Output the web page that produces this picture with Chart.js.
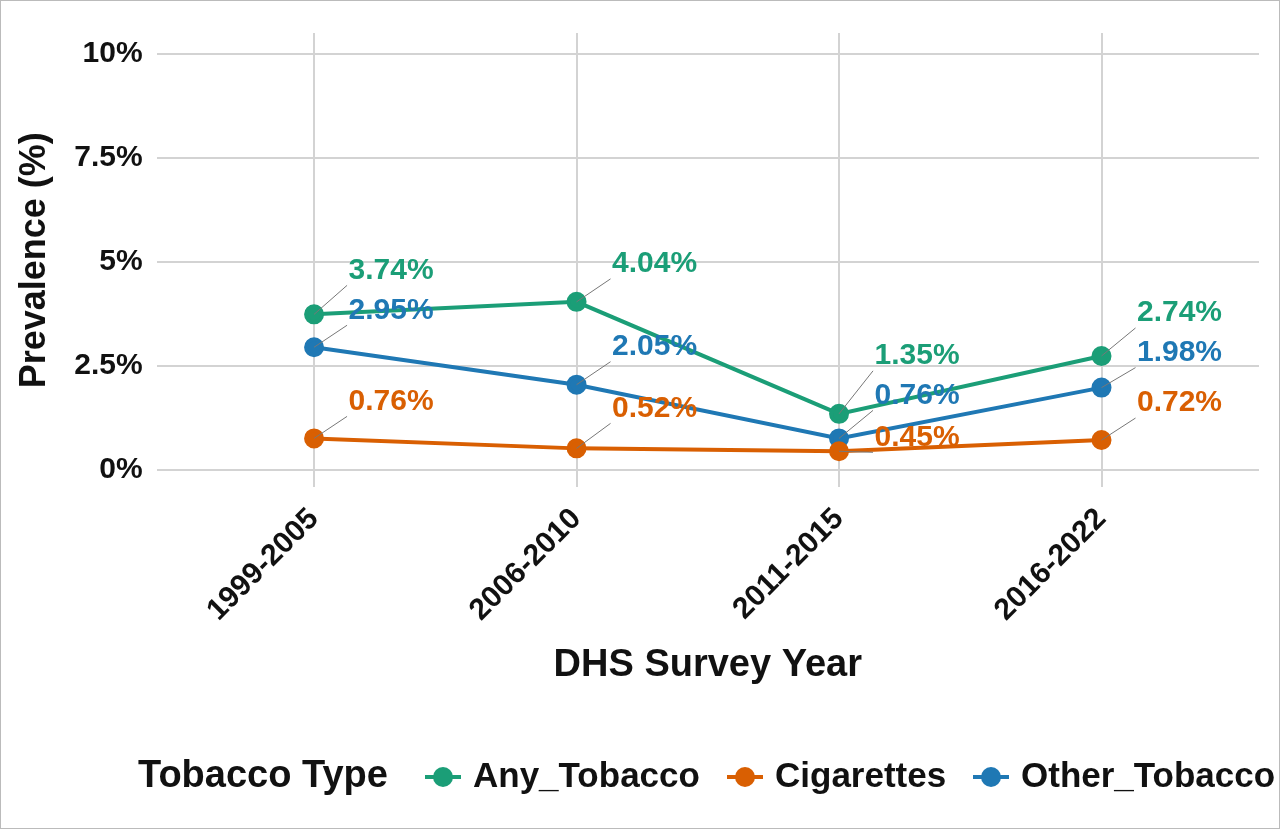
<!DOCTYPE html>
<html>
<head>
<meta charset="utf-8">
<script src="https://cdn.jsdelivr.net/npm/chart.js@4/dist/chart.umd.min.js"></script>
<style>
  html, body { margin: 0; background: #fff; }
  #wrap { width: 1278px; height: 827px; border: 1px solid #bbb; }
</style>
</head>
<body>
<div id="wrap"><canvas id="chart" width="1278" height="827"></canvas></div>
<script>
// ─── Data ────────────────────────────────────────────────────────────────────
const SURVEY_YEARS = ['1999-2005', '2006-2010', '2011-2015', '2016-2022'];
const ANY_TOBACCO   = [3.74, 4.04, 1.35, 2.74];
const CIGARETTES    = [0.76, 0.52, 0.45, 0.72];
const OTHER_TOBACCO = [2.95, 2.05, 0.76, 1.98];
const Y_TICKS = [0, 2.5, 5, 7.5, 10];
const Y_TICK_LABELS = ['0%', '2.5%', '5%', '7.5%', '10%'];

const COLORS = { any: '#1b9e77', cig: '#d95f02', other: '#1f78b4' };
const FONT = 'Liberation Sans, Arial, sans-serif';

// label offsets (px) from each point, repel-style
const LABEL_OFFSET = {
  any:   [[77, -44], [78, -38], [78, -58], [78, -43]],
  other: [[77, -37], [78, -38], [78, -43], [78, -35]],
  cig:   [[77, -37], [78, -40], [78, -14], [78, -37]]
};

const toPts = arr => arr.map((v, i) => ({ x: i, y: v }));

const labelPlugin = {
  id: 'repelLabels',
  afterDatasetsDraw(chart) {
    const { ctx } = chart;
    ctx.save();
    ctx.font = `bold 30px ${FONT}`;
    ctx.textAlign = 'center';
    ctx.textBaseline = 'middle';
    chart.data.datasets.forEach((ds, di) => {
      const meta = chart.getDatasetMeta(di);
      meta.data.forEach((pt, i) => {
        const [dx, dy] = LABEL_OFFSET[ds.key][i];
        const tx = pt.x + dx, ty = pt.y + dy;
        ctx.strokeStyle = '#777';
        ctx.lineWidth = 1;
        ctx.beginPath();
        ctx.moveTo(pt.x, pt.y);
        ctx.lineTo(tx - 44, ty + 15);
        ctx.stroke();
        ctx.fillStyle = ds.borderColor;
        ctx.fillText(ds.data[i].y.toFixed(2) + '%', tx, ty);
      });
    });
    ctx.restore();
  }
};

const legendPlugin = {
  id: 'bottomLegend',
  afterDraw(chart) {
    const { ctx } = chart;
    const y = 776;
    ctx.save();
    ctx.font = `bold 38px ${FONT}`;
    ctx.textBaseline = 'middle';
    ctx.fillStyle = '#111';
    ctx.fillText('Tobacco Type', 137, y);
    const items = [
      ['Any_Tobacco', COLORS.any, 420],
      ['Cigarettes', COLORS.cig, 722],
      ['Other_Tobacco', COLORS.other, 968]
    ];
    ctx.font = `bold 35px ${FONT}`;
    items.forEach(([name, col, x]) => {
      ctx.strokeStyle = col;
      ctx.lineWidth = 4;
      ctx.beginPath(); ctx.moveTo(x + 4, y); ctx.lineTo(x + 40, y); ctx.stroke();
      ctx.fillStyle = col;
      ctx.beginPath(); ctx.arc(x + 22, y, 10, 0, Math.PI * 2); ctx.fill();
      ctx.fillStyle = '#111';
      ctx.fillText(name, x + 52, y);
    });
    ctx.restore();
  }
};

const mkSet = (label, key, data) => ({
  label, key, data: toPts(data),
  borderColor: COLORS[key], backgroundColor: COLORS[key],
  borderWidth: 4, pointRadius: 8, pointHoverRadius: 8, tension: 0
});

new Chart(document.getElementById('chart'), {
  type: 'line',
  data: {
    datasets: [
      mkSet('Any_Tobacco', 'any', ANY_TOBACCO),
      mkSet('Cigarettes', 'cig', CIGARETTES),
      mkSet('Other_Tobacco', 'other', OTHER_TOBACCO)
    ]
  },
  options: {
    responsive: false,
    animation: false,
    layout: { padding: { top: 5, right: 20, bottom: 136, left: 8 } },
    plugins: { legend: { display: false }, tooltip: { enabled: false } },
    scales: {
      x: {
        type: 'linear', min: -0.6, max: 3.6,
        afterBuildTicks: s => { s.ticks = SURVEY_YEARS.map((_, i) => ({ value: i })); },
        grid: { color: '#d3d3d3', lineWidth: 2, drawTicks: false },
        border: { display: false },
        ticks: {
          callback: v => SURVEY_YEARS[v],
          minRotation: 45, maxRotation: 45, padding: 14,
          color: '#111', font: { family: FONT, size: 30, weight: 'bold' }
        },
        title: {
          display: true, text: 'DHS Survey Year', color: '#111',
          font: { family: FONT, size: 38, weight: 'bold' }, padding: { top: 0 }
        }
      },
      y: {
        min: -0.42, max: 10.5,
        afterBuildTicks: s => { s.ticks = Y_TICKS.map(v => ({ value: v })); },
        grid: { color: '#d3d3d3', lineWidth: 2, drawTicks: false },
        border: { display: false },
        ticks: {
          callback: v => Y_TICK_LABELS[Y_TICKS.indexOf(v)],
          padding: 14, color: '#111', font: { family: FONT, size: 30, weight: 'bold' }
        },
        title: {
          display: true, text: 'Prevalence (%)', color: '#111',
          font: { family: FONT, size: 36, weight: 'bold' }, padding: { bottom: 4 }
        }
      }
    }
  },
  plugins: [labelPlugin, legendPlugin]
});
</script>
</body>
</html>
